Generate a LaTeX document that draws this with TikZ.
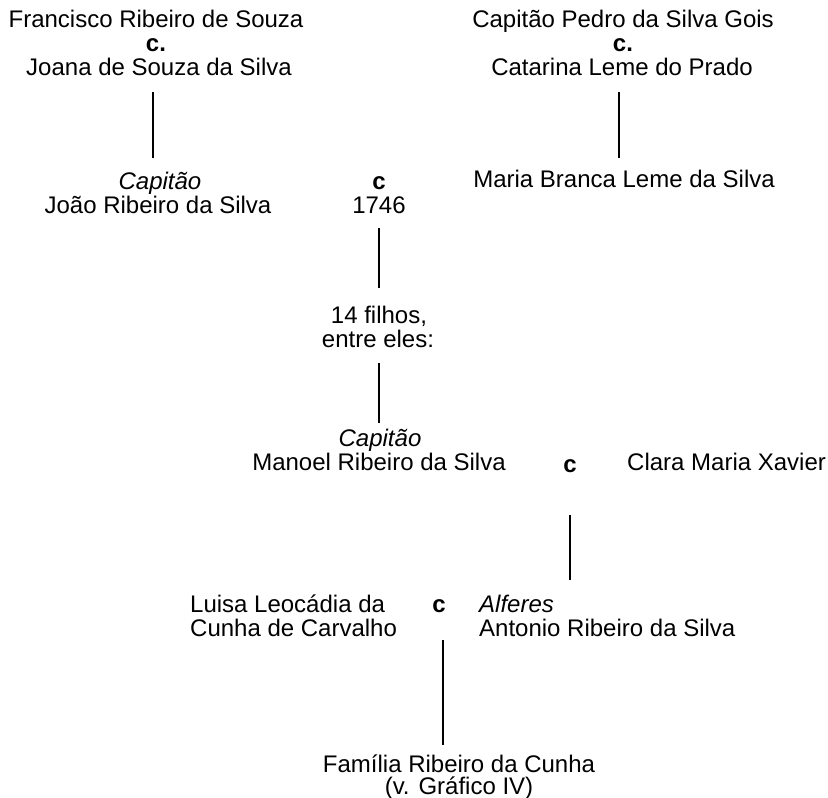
\documentclass[tikz,border=0pt]{standalone}
\usepackage{fontspec}
\setmainfont{Liberation Sans}
\begin{document}
\begin{tikzpicture}[x=1pt,y=-1pt,
  txt/.style={inner sep=0pt,anchor=base,font=\fontsize{24}{24}\selectfont},
  txtl/.style={txt,anchor=base west},
  ln/.style={line width=1.2pt}]
\useasboundingbox (0,0) rectangle (828,798);
% top left couple
\node[txt] (fr) at (156,27) {Francisco Ribeiro de Souza};
\node[txt] (c1) at (156,51) {\bfseries c.};
\node[txt] (jo) at (159,75) {Joana de Souza da Silva};
% top right couple
\node[txt] (cp) at (623,27) {Capitão Pedro da Silva Gois};
\node[txt] (c2) at (623,51) {\bfseries c.};
\node[txt] (ca) at (622,75) {Catarina Leme do Prado};
% second generation
\node[txt] (cap1) at (160,189) {\itshape Capitão};
\node[txt] (joao) at (158,213) {João Ribeiro da Silva};
\node[txt] (c3) at (379,189) {\bfseries c};
\node[txt] (y1746) at (379,213) {1746};
\node[txt] (mb) at (624,187) {Maria Branca Leme da Silva};
% children
\node[txt] (f14) at (379,323) {14 filhos,};
\node[txt] (ent) at (378,347) {entre eles:};
% Manoel
\node[txt] (cap2) at (380,446) {\itshape Capitão};
\node[txt] (man) at (379,470) {Manoel Ribeiro da Silva};
\node[txt] (c4) at (570,472) {\bfseries c};
\node[txtl] (clara) at (627,470) {Clara Maria Xavier};
% Antonio
\node[txtl] (lu1) at (190,612) {Luisa Leocádia da};
\node[txtl] (lu2) at (190,636) {Cunha de Carvalho};
\node[txt] (c5) at (439,612) {\bfseries c};
\node[txtl] (alf) at (479,612) {\itshape Alferes};
\node[txtl] (ant) at (479,636) {Antonio Ribeiro da Silva};
% family
\node[txt] (fam) at (459,772) {Família Ribeiro da Cunha};
\node[txt] (gr) at (459,794) {(v. Gráfico IV)};
% connector ends
\coordinate (a1) at (153,92);  \coordinate (b1) at (153,158);
\coordinate (a2) at (619,92);  \coordinate (b2) at (619,158);
\coordinate (a3) at (379,228); \coordinate (b3) at (379,288);
\coordinate (a4) at (379,363); \coordinate (b4) at (379,423);
\coordinate (a5) at (570,515); \coordinate (b5) at (570,580);
\coordinate (a6) at (443,640); \coordinate (b6) at (443,745);
\draw[ln] (a1) -- (b1);
\draw[ln] (a2) -- (b2);
\draw[ln] (a3) -- (b3);
\draw[ln] (a4) -- (b4);
\draw[ln] (a5) -- (b5);
\draw[ln] (a6) -- (b6);
\end{tikzpicture}
\end{document}
